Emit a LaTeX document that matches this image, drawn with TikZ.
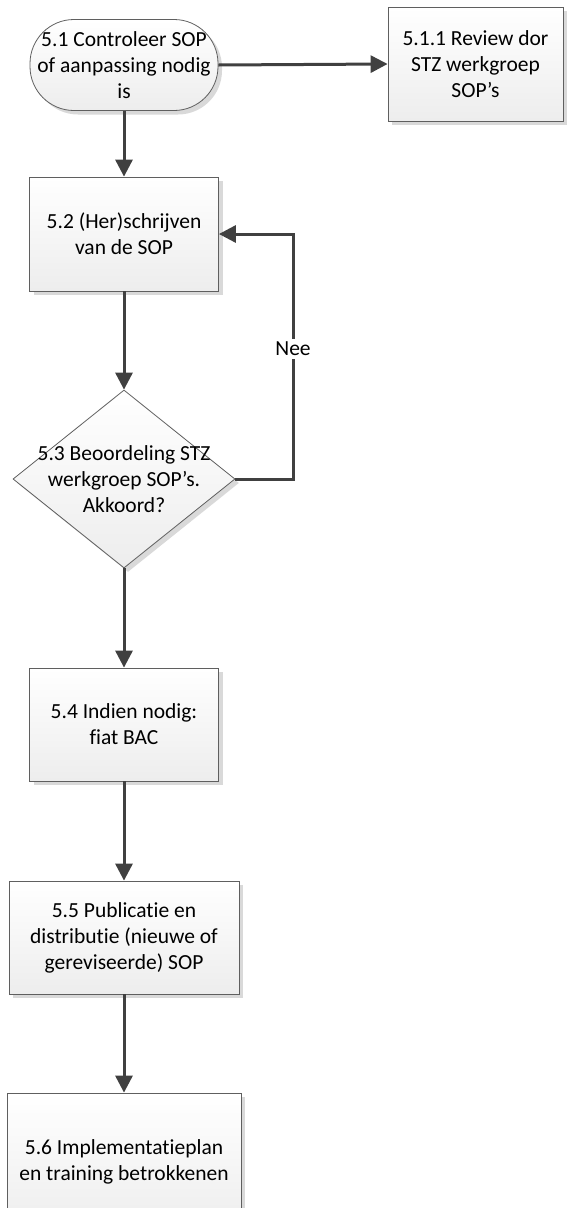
\documentclass[tikz,border=0pt]{standalone}
\usepackage{fontspec}
\setmainfont{Carlito}[Ligatures=NoCommon]
\usetikzlibrary{arrows.meta,shapes.geometric,shadows}
\definecolor{arrowgray}{HTML}{404040}
\definecolor{edgegray}{HTML}{5F5F5F}
\definecolor{fillgray}{HTML}{EDEDED}
\definecolor{shadegray}{HTML}{D9D9D9}

\begin{document}
\begin{tikzpicture}[x=1pt,y=-1pt]
	\tikzstyle{every node}=[font=\fontsize{21.5}{26}\selectfont, align=center]
	\tikzstyle{process}=[draw=edgegray, line width=0.8pt, top color=white, bottom color=fillgray, drop shadow={shadow xshift=4pt, shadow yshift=-4pt, fill=shadegray, opacity=1}, inner sep=0pt]
	\tikzstyle{terminal}=[process, rounded corners=44pt, minimum width=188pt, minimum height=91pt]
	\tikzstyle{decision}=[process, diamond, minimum width=222pt, minimum height=178pt]
	\tikzstyle{flow}=[draw=arrowgray, line width=3pt, -{Triangle[length=17pt,width=17pt]}]
	\useasboundingbox (0,0) rectangle (573,1208);
	\clip (0,0) rectangle (573,1208);
	% steps
	\node[terminal] (t51) at (124,65) {5.1 Controleer SOP\\of aanpassing nodig\\is};
	\node[process, minimum width=175pt, minimum height=114pt] (b511) at (475.5,64) {5.1.1 Review dor\\STZ werkgroep\\SOP’s};
	\node[process, minimum width=189pt, minimum height=114pt] (b52) at (124,234) {5.2 (Her)schrijven\\van de SOP};
	\node[decision, label={center:{5.3 Beoordeling STZ\\werkgroep SOP’s.\\Akkoord?}}] (d53) at (124,479) {};
	\node[process, minimum width=189pt, minimum height=113pt] (b54) at (124,724.5) {5.4 Indien nodig:\\fiat BAC};
	\node[process, minimum width=230pt, minimum height=113pt] (b55) at (124,937.5) {5.5 Publicatie en\\distributie (nieuwe of\\gereviseerde) SOP};
	\node[process, minimum width=234pt, minimum height=138pt] (b56) at (124,1162) {5.6 Implementatieplan\\en training betrokkenen};
	\coordinate (loop) at (293,479);
	% arrows
	\draw[flow] (t51.east) -- (b511.west);
	\draw[flow] (t51.south) -- (b52.north);
	\draw[flow] (b52.south) -- (d53.north);
	\draw[flow] (d53.east) -- (loop) |- node[pos=0.265, fill=white, inner sep=3pt] {Nee} (b52.east);
	\draw[flow] (d53.south) -- (b54.north);
	\draw[flow] (b54.south) -- (b55.north);
	\draw[flow] (b55.south) -- (b56.north);
\end{tikzpicture}
\end{document}
